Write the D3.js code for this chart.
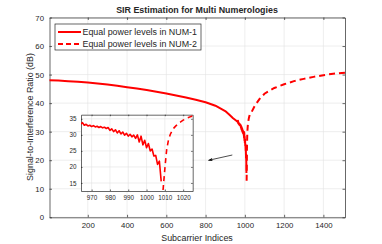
<!DOCTYPE html>
<html>
<head>
<meta charset="utf-8">
<script src="https://cdn.jsdelivr.net/npm/d3@7"></script>
<style>
  body { margin: 0; background: #fff; }
  text { font-family: "Liberation Sans", Arial, sans-serif; fill: #262626; }
</style>
</head>
<body>
<div id="container"></div>
<script>
const width = 382;
const height = 244;

// NUM-1 (solid): subcarrier index and SIR (dB)
const num1X = [1, 50, 100, 150, 200, 250, 300, 350, 400, 450, 500, 550, 600, 650, 700, 750, 800, 850, 900, 920, 940, 955,
  964, 965, 966, 967, 968, 969, 970, 971, 972, 973, 974, 975, 976, 977, 978, 979, 980, 981, 982, 983, 984, 985, 986, 987,
  988, 989, 990, 991, 992, 993, 994, 995, 996, 997, 998, 999, 1000, 1001, 1002, 1003, 1004, 1005, 1006, 1007, 1008];
const num1Y = [48.0, 47.9, 47.7, 47.5, 47.2, 46.9, 46.5, 46.1, 45.6, 45.1, 44.6, 44.0, 43.4, 42.7, 42.0, 41.2, 40.3, 39.1, 37.2, 36.0, 34.7, 33.9,
  33.4, 33.8, 33.0, 33.3, 32.8, 33.0, 32.6, 32.9, 32.5, 32.7, 32.3, 32.6, 32.2, 32.4, 32.0, 32.3, 31.4, 31.9, 31.0, 31.6, 30.6, 31.3, 30.3, 30.9,
  29.9, 30.5, 29.6, 30.2, 29.4, 29.9, 28.9, 30.0, 27.8, 29.6, 26.9, 28.3, 26.0, 27.3, 25.0, 25.6, 23.4, 23.6, 20.8, 21.8, 15.5];

// NUM-2 (dashed)
const num2X = [1009, 1010, 1011, 1012, 1013, 1014, 1015, 1016, 1017, 1018, 1019, 1020, 1022, 1024, 1026, 1035, 1050, 1075, 1100,
  1150, 1200, 1250, 1300, 1350, 1400, 1450, 1512];
const num2Y = [12.8, 19.5, 25.5, 28.5, 30.2, 31.3, 32.2, 32.8, 33.3, 33.8, 34.2, 34.6, 35.2, 35.7, 36.1, 37.0, 39.0, 41.5, 43.3,
  45.3, 46.6, 47.7, 48.5, 49.2, 49.8, 50.3, 50.7];

const xTicks = [200, 400, 600, 800, 1000, 1200, 1400];
const yTicks = [0, 10, 20, 30, 40, 50, 60, 70];
const insetXTicks = [970, 980, 990, 1000, 1010, 1020];
const insetYTicks = [15, 20, 25, 30, 35];
const legendLabels = ["Equal power levels in NUM-1", "Equal power levels in NUM-2"];

const num1 = num1X.map((x, i) => ({ x: x, y: num1Y[i] }));
const num2 = num2X.map((x, i) => ({ x: x, y: num2Y[i] }));

const axisColor = "#262626";
const gridColor = "#e3e3e3";
const red = "#ff0000";

const svg = d3.select("#container").append("svg")
  .attr("width", width)
  .attr("height", height)
  .attr("viewBox", `0 0 ${width} ${height}`);

svg.append("defs").append("marker")
  .attr("id", "arrow")
  .attr("viewBox", "0 0 10 10")
  .attr("refX", 9).attr("refY", 5)
  .attr("markerWidth", 7).attr("markerHeight", 7)
  .attr("orient", "auto")
  .append("path").attr("d", "M0,1.5 L10,5 L0,8.5 L3,5 Z").attr("fill", "#000");

function drawAxes(g, x, y, xt, yt, fs, tickLen) {
  const [x0, x1] = x.range();
  const [y0, y1] = y.range();
  // grid
  g.append("g").selectAll("line").data(xt).join("line")
    .attr("x1", d => x(d)).attr("x2", d => x(d))
    .attr("y1", y0).attr("y2", y1)
    .attr("stroke", gridColor).attr("stroke-width", 0.6);
  g.append("g").selectAll("line").data(yt).join("line")
    .attr("x1", x0).attr("x2", x1)
    .attr("y1", d => y(d)).attr("y2", d => y(d))
    .attr("stroke", gridColor).attr("stroke-width", 0.6);

  // axes with inward ticks (MATLAB style), box on
  const fmt = d3.format("d");
  const bottom = g.append("g").attr("transform", `translate(0,${y0})`)
    .call(d3.axisBottom(x).tickValues(xt).tickFormat(fmt).tickSize(-tickLen).tickPadding(tickLen + 3).tickSizeOuter(0));
  const top = g.append("g").attr("transform", `translate(0,${y1})`)
    .call(d3.axisTop(x).tickValues(xt).tickSize(-tickLen).tickFormat("").tickSizeOuter(0));
  const left = g.append("g").attr("transform", `translate(${x0},0)`)
    .call(d3.axisLeft(y).tickValues(yt).tickFormat(fmt).tickSize(-tickLen).tickPadding(tickLen + 3).tickSizeOuter(0));
  const right = g.append("g").attr("transform", `translate(${x1},0)`)
    .call(d3.axisRight(y).tickValues(yt).tickSize(-tickLen).tickFormat("").tickSizeOuter(0));
  [bottom, top, left, right].forEach(a => {
    a.select(".domain").attr("stroke", axisColor).attr("stroke-width", 0.7);
    a.selectAll(".tick line").attr("stroke", axisColor).attr("stroke-width", 0.7);
    a.selectAll(".tick text").attr("font-size", fs).attr("fill", axisColor)
      .attr("font-family", "Liberation Sans, Arial, sans-serif");
  });
}

// ---- main axes ----
const x = d3.scaleLinear().domain([5, 1510]).range([49.5, 345]);
const y = d3.scaleLinear().domain([0, 70]).range([217.3, 17.5]);

const main = svg.append("g");
main.append("rect").attr("x", 49.5).attr("y", 17.5).attr("width", 345 - 49.5).attr("height", 217.3 - 17.5).attr("fill", "#fff");
drawAxes(main, x, y, xTicks, yTicks, 7.8, 2.5);

const clipMain = svg.append("clipPath").attr("id", "clipMain");
clipMain.append("rect").attr("x", 49.5).attr("y", 17.5).attr("width", 345 - 49.5).attr("height", 217.3 - 17.5);

const line = d3.line().x(d => x(d.x)).y(d => y(d.y));
const plot = main.append("g").attr("clip-path", "url(#clipMain)");
plot.append("path").datum(num1).attr("d", line)
  .attr("fill", "none").attr("stroke", red).attr("stroke-width", 2).attr("stroke-linejoin", "round");
plot.append("path").datum(num2).attr("d", line)
  .attr("fill", "none").attr("stroke", red).attr("stroke-width", 2).attr("stroke-dasharray", "6,4");

// title and labels
svg.append("text").attr("x", 197).attr("y", 12.5).attr("text-anchor", "middle")
  .attr("font-size", 8.9).attr("font-weight", "bold").text("SIR Estimation for Multi Numerologies");
svg.append("text").attr("x", 197).attr("y", 240.5).attr("text-anchor", "middle")
  .attr("font-size", 8.9).text("Subcarrier Indices");
svg.append("text").attr("transform", "translate(33,117) rotate(-90)").attr("text-anchor", "middle")
  .attr("font-size", 8.9).text("Signal-to-Interference Ratio (dB)");

// legend
const legend = svg.append("g").attr("transform", "translate(55,24)");
legend.append("rect").attr("width", 146).attr("height", 26)
  .attr("fill", "#fff").attr("stroke", axisColor).attr("stroke-width", 0.7);
legendLabels.forEach((lab, i) => {
  const ly = 8 + i * 12;
  legend.append("line").attr("x1", 3).attr("x2", 26).attr("y1", ly).attr("y2", ly)
    .attr("stroke", red).attr("stroke-width", 2)
    .attr("stroke-dasharray", i === 1 ? "5,3" : null);
  legend.append("text").attr("x", 27.5).attr("y", ly + 3).attr("font-size", 8.9).text(lab);
});

// arrow pointing to inset
svg.append("line").attr("x1", 232.3).attr("y1", 155).attr("x2", 208.5).attr("y2", 160.3)
  .attr("stroke", "#000").attr("stroke-width", 0.7).attr("marker-end", "url(#arrow)");

// ---- inset axes ----
const xi = d3.scaleLinear().domain([964.2, 1025.2]).range([81, 192.7]);
const yi = d3.scaleLinear().domain([12.5, 36.3]).range([191, 114.7]);
const inset = svg.append("g");
inset.append("rect").attr("x", 81).attr("y", 114.7).attr("width", 192.7 - 81).attr("height", 191 - 114.7).attr("fill", "#fff");
drawAxes(inset, xi, yi, insetXTicks, insetYTicks, 6.3, 1.5);

const clipInset = svg.append("clipPath").attr("id", "clipInset");
clipInset.append("rect").attr("x", 81).attr("y", 114.7).attr("width", 192.7 - 81).attr("height", 191 - 114.7);
const lineI = d3.line().x(d => xi(d.x)).y(d => yi(d.y));
const iplot = inset.append("g").attr("clip-path", "url(#clipInset)");
iplot.append("path").datum(num1).attr("d", lineI)
  .attr("fill", "none").attr("stroke", red).attr("stroke-width", 1.6).attr("stroke-linejoin", "round");
iplot.append("path").datum(num2).attr("d", lineI)
  .attr("fill", "none").attr("stroke", red).attr("stroke-width", 1.6).attr("stroke-dasharray", "5,4");
</script>
</body>
</html>
